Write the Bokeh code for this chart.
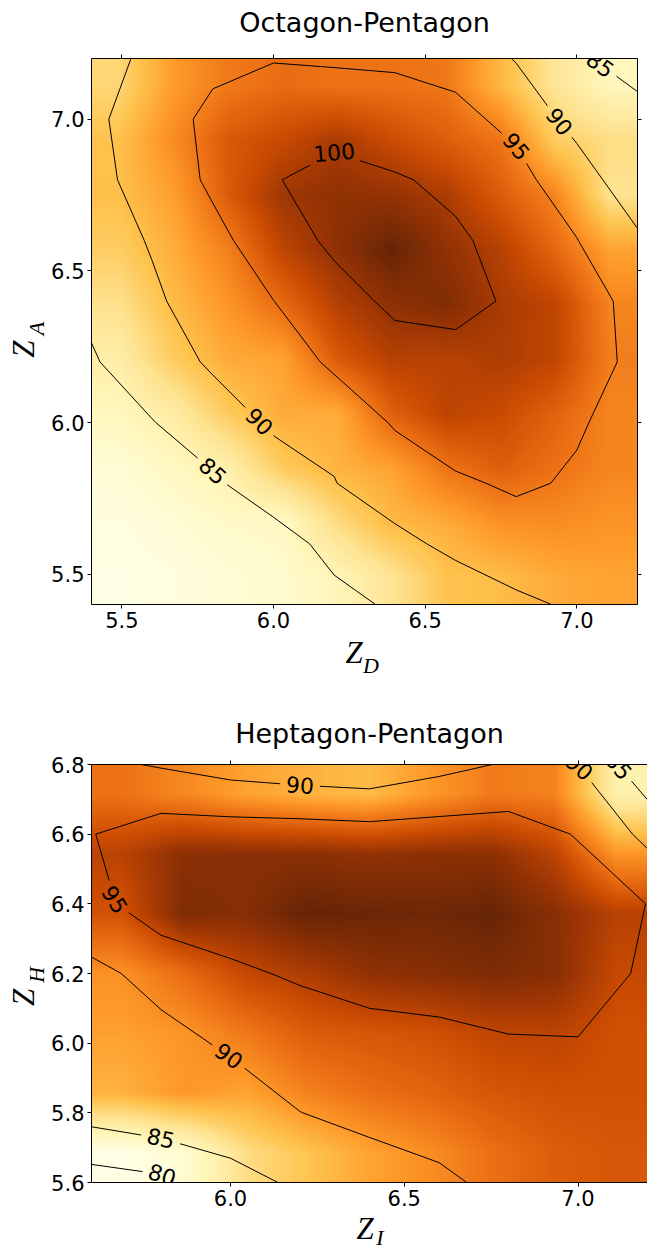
import numpy as np
import contourpy
from bokeh.plotting import figure
from bokeh.models import (Range1d, LinearAxis, FixedTicker, PrintfTickFormatter,
                          LinearColorMapper, ColumnDataSource, LabelSet, Label)
from bokeh.layouts import column, row
from bokeh.core.properties import value
from bokeh.embed import file_html
from bokeh.resources import INLINE

# ------------------------------------------------------------------ data
# Octagon-Pentagon: rows follow Z_A (ascending), columns follow Z_D (ascending)
zd = [5.4, 5.6, 5.8, 6.0, 6.2, 6.4, 6.6, 6.8, 7.0, 7.2]
za = [5.4, 5.6, 5.8, 6.0, 6.2, 6.4, 6.6, 6.8, 7.0, 7.2]
octagon_pentagon = [
    [80.3, 80.8, 81.5, 82.0, 83.4, 85.75, 88.8, 89.3, 90.5, 91.0],
    [80.8, 81.5, 82.3, 82.5, 86.7, 89.5, 90.45, 92.2, 92.5, 92.0],
    [81.5, 82.7, 84.2, 88.2, 89.95, 91.0, 94.2, 95.8, 94.4, 93.0],
    [83.0, 84.8, 88.2, 90.5, 90.4, 95.6, 98.2, 97.5, 95.5, 93.0],
    [84.5, 88.1, 90.5, 91.0, 96.2, 98.5, 98.3, 99.0, 98.0, 93.5],
    [86.1, 89.4, 91.9, 94.95, 98.6, 100.7, 101.5, 99.25, 98.0, 93.0],
    [88.0, 90.3, 93.4, 98.1, 100.7, 103.0, 100.6, 98.5, 95.1, 91.0],
    [89.1, 91.2, 96.0, 99.9, 100.6, 100.4, 99.1, 96.0, 93.0, 86.0],
    [89.0, 92.5, 96.2, 97.5, 99.27, 97.3, 95.8, 94.2, 88.0, 86.5],
    [87.2, 91.5, 93.8, 94.8, 94.25, 94.3, 94.0, 89.65, 85.6, 83.2],
]
levels_top = [85, 90, 95, 100]
ticks_top_x = [5.5, 6.0, 6.5, 7.0]
ticks_top_y = [5.5, 6.0, 6.5, 7.0]

# Heptagon-Pentagon: rows follow Z_H (ascending), columns follow Z_I (ascending)
zi = [5.6, 5.8, 6.0, 6.2, 6.4, 6.6, 6.8, 7.0, 7.2]
zh = [5.6, 5.8, 6.0, 6.2, 6.4, 6.6, 6.8]
heptagon_pentagon = [
    [77.6, 78.84, 83.5, 85.7, 87.8, 89.2, 91.2, 92.5, 93.0],
    [86.85, 88.55, 87.8, 89.95, 91.2, 92.0, 93.0, 93.5, 93.5],
    [88.0, 88.7, 90.55, 92.6, 93.0, 93.5, 94.55, 94.75, 93.5],
    [88.95, 91.4, 94.3, 95.5, 97.0, 97.5, 98.0, 97.5, 94.2],
    [93.4, 97.95, 97.55, 99.3, 99.0, 98.8, 99.2, 97.4, 94.93],
    [94.85, 97.3, 97.36, 97.3, 96.9, 97.2, 97.2, 94.73, 88.7],
    [91.0, 89.6, 87.9, 86.9, 86.3, 88.5, 90.45, 89.95, 81.2],
]
levels_bottom = [80, 85, 90, 95]
ticks_bottom_x = [6.0, 6.5, 7.0]
ticks_bottom_y = [5.6, 5.8, 6.0, 6.2, 6.4, 6.6, 6.8]

# where the inline contour labels sit (level, near x, near y)
labels_top = [(100, 6.2, 6.89), (95, 6.8, 6.91), (90, 6.94, 6.99), (85, 7.07, 7.17),
              (90, 5.95, 6.0), (85, 5.8, 5.84)]
labels_bottom = [(90, 6.2, 6.74), (95, 5.66, 6.41), (90, 6.0, 5.97), (85, 5.8, 5.73),
                 (80, 5.8, 5.615), (90, 7.0, 6.79), (85, 7.11, 6.79)]

# ------------------------------------------------------------------ style
YLORBR = ["#ffffe5", "#fff7bc", "#fee391", "#fec44f", "#fe9929",
          "#ec7014", "#cc4c02", "#993404", "#662506"]
TICK_FONT = "21px"
CLABEL_FONT_PX = 22
W = 647
SANS = "DejaVu Sans"
MATH = "Liberation Serif"
K_SANS = 0.346   # (ascent - descent) / 2, in em
K_MATH = 0.3375


def make_palette(anchors, n=256):
    rgb = np.array([[int(c[i:i + 2], 16) for i in (1, 3, 5)] for c in anchors], float)
    t = np.linspace(0, 1, n)
    pos = np.linspace(0, 1, len(anchors))
    out = np.stack([np.interp(t, pos, rgb[:, k]) for k in range(3)], 1)
    return ["#%02x%02x%02x" % tuple(int(round(v)) for v in r) for r in out]


PALETTE = make_palette(YLORBR)


def resample_bilinear(Z, nxo, nyo):
    """Image-style bilinear resampling (pixel centres spread over the extent)."""
    Z = np.asarray(Z, float)
    ny, nx = Z.shape
    u = np.clip((np.arange(nxo) + 0.5) / nxo * nx - 0.5, 0, nx - 1)
    v = np.clip((np.arange(nyo) + 0.5) / nyo * ny - 0.5, 0, ny - 1)
    i0 = np.minimum(np.floor(u).astype(int), nx - 2)
    j0 = np.minimum(np.floor(v).astype(int), ny - 2)
    fu = (u - i0)[None, :]
    fv = (v - j0)[:, None]
    A = Z[np.ix_(j0, i0)]
    B = Z[np.ix_(j0, i0 + 1)]
    C = Z[np.ix_(j0 + 1, i0)]
    D = Z[np.ix_(j0 + 1, i0 + 1)]
    return A * (1 - fu) * (1 - fv) + B * fu * (1 - fv) + C * (1 - fu) * fv + D * fu * fv


# ---------------------------------------------------------------- contour helpers
def _cum(ln):
    seg = np.hypot(np.diff(ln[:, 0]), np.diff(ln[:, 1]))
    return np.concatenate([[0.0], np.cumsum(seg)])


def _point(ln, cum, s):
    s = min(max(s, 0.0), cum[-1])
    k = int(np.searchsorted(cum, s, side="right") - 1)
    k = max(0, min(k, len(ln) - 2))
    L = cum[k + 1] - cum[k]
    t = 0.0 if L <= 0 else (s - cum[k]) / L
    return ln[k] + (ln[k + 1] - ln[k]) * t


def _closed(ln):
    return len(ln) > 3 and np.allclose(ln[0], ln[-1])


def _point_any(ln, s):
    cum = _cum(ln)
    if _closed(ln):
        s = s % cum[-1]
    return _point(ln, cum, s)


def _nearest(ln, p):
    a = ln[:-1]
    ab = ln[1:] - a
    L2 = (ab ** 2).sum(1)
    L2 = np.where(L2 == 0, 1e-12, L2)
    t = np.clip(((p - a) * ab).sum(1) / L2, 0, 1)
    proj = a + ab * t[:, None]
    d = np.hypot(proj[:, 0] - p[0], proj[:, 1] - p[1])
    k = int(d.argmin())
    cum = _cum(ln)
    return d[k], cum[k] + t[k] * (cum[k + 1] - cum[k])


def _sub(ln, cum, s1, s2):
    pts = [_point(ln, cum, s1)]
    mask = (cum > s1) & (cum < s2)
    pts.extend(ln[mask])
    pts.append(_point(ln, cum, s2))
    return np.array(pts)


def _visible(ln, gaps):
    if not gaps:
        return [ln]
    cum = _cum(ln)
    total = cum[-1]
    pieces = []
    if _closed(ln):
        ln2 = np.vstack([ln, ln[1:]])
        cum2 = np.concatenate([cum, cum[1:] + total])
        g = sorted(((a % total), (a % total) + (b - a)) for a, b in gaps)
        for i, (a, b) in enumerate(g):
            na = g[(i + 1) % len(g)][0] + (total if i + 1 == len(g) else 0)
            if na > b:
                pieces.append(_sub(ln2, cum2, b, na))
    else:
        s = 0.0
        for a, b in sorted(gaps):
            if a > s:
                pieces.append(_sub(ln, cum, s, min(a, total)))
            s = max(s, b)
        if s < total:
            pieces.append(_sub(ln, cum, s, total))
    return pieces


def contours_with_labels(xs, ys, Z, levels, specs, px_per_unit):
    gen = contourpy.contour_generator(np.asarray(xs, float), np.asarray(ys, float),
                                      np.asarray(Z, float))
    lines = {lev: [np.asarray(l, float) for l in gen.lines(lev) if len(l) > 1] for lev in levels}
    gaps = {lev: [[] for _ in lines[lev]] for lev in levels}
    lab = dict(x=[], y=[], text=[], angle=[])
    for lev, tx, ty in specs:
        best = None
        for k, ln in enumerate(lines[lev]):
            d, s0 = _nearest(ln, np.array([tx, ty]))
            if best is None or d < best[0]:
                best = (d, k, s0)
        if best is None:
            continue
        _, k, s0 = best
        ln = lines[lev][k]
        text = "%d" % lev
        half = (0.636 * CLABEL_FONT_PX * len(text) / 2 + 6) / px_per_unit
        gaps[lev][k].append((s0 - half, s0 + half))
        p1, p2, pc = _point_any(ln, s0 - half), _point_any(ln, s0 + half), _point_any(ln, s0)
        ang = np.arctan2(p2[1] - p1[1], p2[0] - p1[0])
        if ang > np.pi / 2:
            ang -= np.pi
        if ang <= -np.pi / 2:
            ang += np.pi
        lab["x"].append(float(pc[0]))
        lab["y"].append(float(pc[1]))
        lab["text"].append(text)
        lab["angle"].append(float(ang))
    mx, my = [], []
    for lev in levels:
        for ln, g in zip(lines[lev], gaps[lev]):
            for piece in _visible(ln, g):
                mx.append(piece[:, 0].tolist())
                my.append(piece[:, 1].tolist())
    return mx, my, lab


def style_axis(ax, ticks, labels=True, standoff=3):
    ax.ticker = FixedTicker(ticks=ticks)
    ax.formatter = PrintfTickFormatter(format="%.1f")
    ax.axis_line_color = "black"
    ax.axis_line_width = 1
    ax.major_tick_line_color = "black"
    ax.major_tick_line_width = 1
    ax.major_tick_out = 4
    ax.major_tick_in = 0
    ax.minor_tick_line_color = None
    ax.major_label_text_font = SANS
    if labels:
        ax.major_label_text_color = "black"
        ax.major_label_text_font_size = TICK_FONT
        ax.major_label_standoff = standoff
    else:
        ax.major_label_text_color = None
        ax.major_label_text_font_size = "1px"
        ax.major_label_standoff = 0


def chart(xs, ys, Z, levels, specs, xticks, yticks, width, height, borders,
          right_axis, title, title_baseline_above_frame):
    left, right, top, bottom = borders
    p = figure(width=width, height=height,
               x_range=Range1d(xs[0], xs[-1]), y_range=Range1d(ys[0], ys[-1]),
               output_backend="svg", toolbar_location=None,
               min_border_left=left, min_border_right=right,
               min_border_top=top, min_border_bottom=bottom,
               outline_line_color=None, background_fill_color="white",
               border_fill_color="white")
    p.title.visible = False
    p.grid.visible = False
    fw = width - left - right
    fh = height - top - bottom
    ppu = fw / (xs[-1] - xs[0])

    zarr = np.asarray(Z, float)
    img = resample_bilinear(zarr, fw, fh)
    mapper = LinearColorMapper(palette=PALETTE, low=float(zarr.min()), high=float(zarr.max()))
    p.image(image=[img], x=xs[0], y=ys[0], dw=xs[-1] - xs[0], dh=ys[-1] - ys[0],
            color_mapper=mapper)

    mx, my, lab = contours_with_labels(xs, ys, Z, levels, specs, ppu)
    p.multi_line(xs=mx, ys=my, line_color="black", line_width=1)
    p.add_layout(LabelSet(x="x", y="y", text="text", angle="angle",
                          source=ColumnDataSource(lab),
                          text_font=value(SANS),
                          text_font_size="%dpx" % CLABEL_FONT_PX,
                          text_color="black", text_align="center",
                          text_baseline="middle"), "above")

    style_axis(p.below[0], xticks, True, 3)
    style_axis(p.left[0], yticks, True, 3)
    ax_top = LinearAxis()
    style_axis(ax_top, xticks, False)
    p.add_layout(ax_top, "above")
    if right_axis:
        ax_r = LinearAxis()
        style_axis(ax_r, yticks, False)
        p.add_layout(ax_r, "right")

    # title, centred over the frame
    p.add_layout(Label(x=0.5 * (xs[0] + xs[-1]), y=ys[-1],
                       y_offset=title_baseline_above_frame + K_SANS * 27,
                       text=title, text_font=SANS, text_font_size="27px",
                       text_color="black", text_align="center",
                       text_baseline="middle"), "above")
    return p


def text_fig(w, h, top_overlap=0):
    f = figure(width=w, height=h, x_range=Range1d(0, w), y_range=Range1d(0, h),
               output_backend="svg", toolbar_location=None, min_border=0,
               x_axis_type=None, y_axis_type=None, outline_line_color=None,
               background_fill_color=None, border_fill_color=None,
               margin=(-top_overlap, 0, 0, 0))
    f.title.visible = False
    return f


def add_math(f, x, baseline_from_top, text, px, rotated=False, center=None):
    """Place italic math text so that its baseline lands at the wanted pixel."""
    shift = K_MATH * px
    if rotated:
        f.add_layout(Label(x=x - shift, y=f.height - center, text=text, angle=np.pi / 2,
                           text_font=MATH, text_font_style="italic",
                           text_font_size="%dpx" % px, text_color="black",
                           text_align="center", text_baseline="middle"))
    else:
        f.add_layout(Label(x=x, y=f.height - (baseline_from_top - shift), text=text,
                           text_font=MATH, text_font_style="italic",
                           text_font_size="%dpx" % px, text_color="black",
                           text_align="center", text_baseline="middle"))


OVER = 8
# ---------------- top chart: Octagon-Pentagon   (frame: x 90..637, y 58..604)
c1 = chart(zd, za, octagon_pentagon, levels_top, labels_top, ticks_top_x, ticks_top_y,
           W - 48, 636, (42, 10, 58, 32), True, "Octagon-Pentagon", 58 - 31.7)
y1 = text_fig(48, 636)
add_math(y1, 33, None, "Z", 31, rotated=True, center=338.5)
add_math(y1, 43, None, "A", 22, rotated=True, center=314.5)
x1 = text_fig(W, 54 + OVER, OVER)          # spans page y 628..690
add_math(x1, 353.5, 662 - 628, "Z", 31)
add_math(x1, 370.5, 672 - 628, "D", 22)

# ---------------- bottom chart: Heptagon-Pentagon   (frame: x 90..647, y 764..1182)
c2 = chart(zi, zh, heptagon_pentagon, levels_bottom, labels_bottom, ticks_bottom_x,
           ticks_bottom_y, W - 48, 524, (42, 0, 74, 32), False, "Heptagon-Pentagon",
           764 - 742)
y2 = text_fig(48, 524)
add_math(y2, 33, None, "Z", 31, rotated=True, center=982 - 690)
add_math(y2, 43, None, "H", 22, rotated=True, center=953.5 - 690)
x2 = text_fig(W, 35 + OVER, OVER)          # spans page y 1206..1249
add_math(x2, 364.5, 1238 - 1206, "Z", 31)
add_math(x2, 379.5, 1244 - 1206, "I", 22)

layout = column(row(y1, c1, spacing=0), x1, row(y2, c2, spacing=0), x2, spacing=0)
open("out.html", "w").write(file_html(layout, INLINE))
